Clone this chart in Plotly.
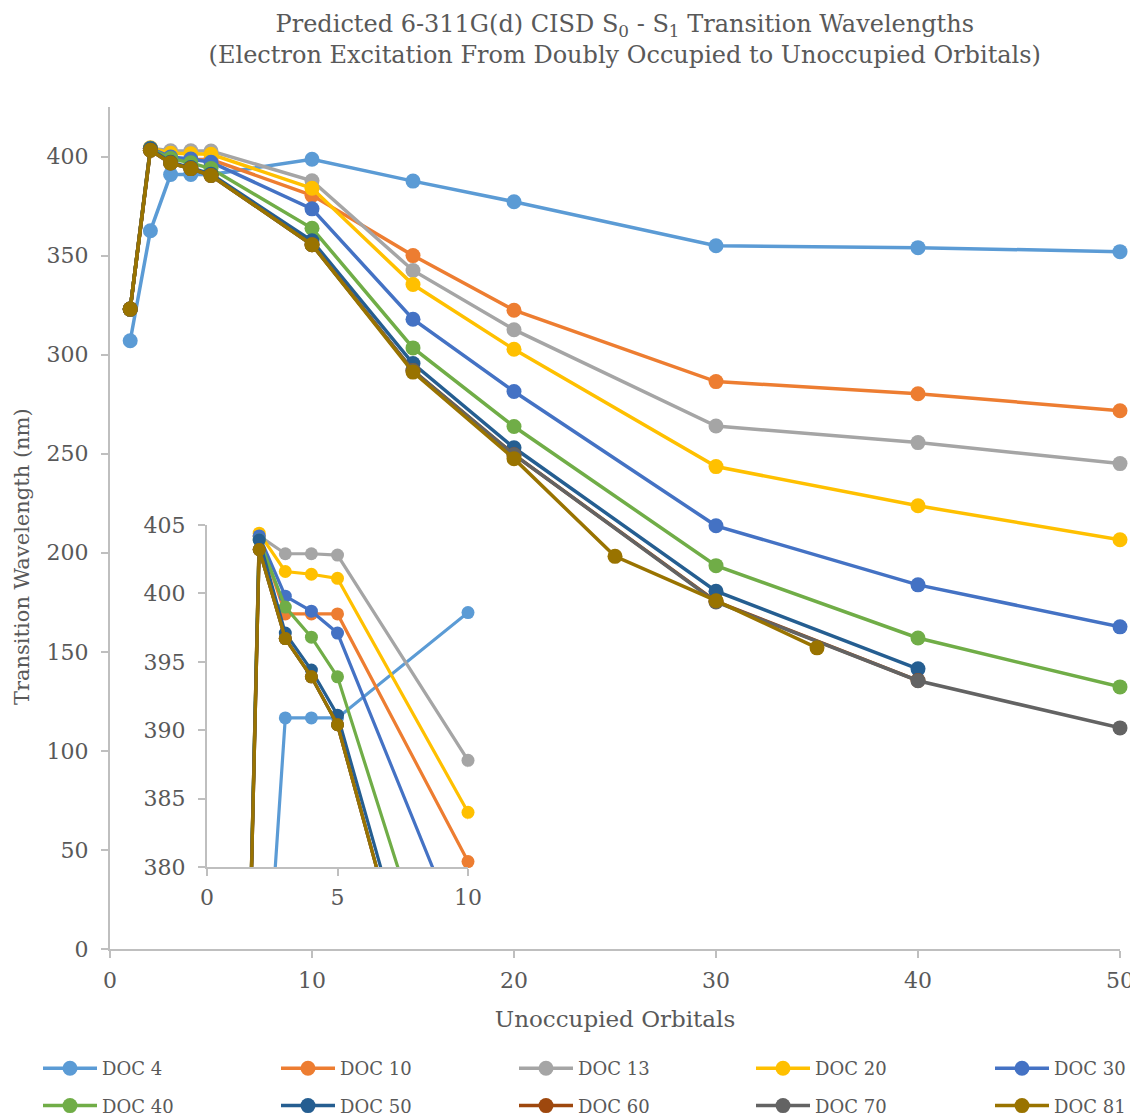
import plotly.graph_objects as go

# ---------------- data ----------------
x_std = [1, 2, 3, 4, 5, 10, 15, 20, 30, 40, 50]
x_doc50 = [1, 2, 3, 4, 5, 10, 15, 20, 30, 40]
x_doc60 = [1, 2, 3, 4, 5, 10, 15, 20, 30, 40]
x_doc81 = [1, 2, 3, 4, 5, 10, 15, 20, 25, 30, 35]

doc4 = [307, 362.5, 390.9, 390.9, 390.9, 398.6, 387.6, 377.2, 355, 354, 352]
doc10 = [323, 404.2, 398.5, 398.5, 398.5, 380.4, 350, 322.4, 286.4, 280.3, 271.7]
doc13 = [323, 404.2, 402.9, 402.9, 402.8, 387.8, 342.5, 312.6, 264, 255.6, 245]
doc20 = [323, 404.4, 401.6, 401.4, 401.1, 384.0, 335.4, 302.7, 243.5, 223.7, 206.6]
doc30 = [323, 404.2, 399.8, 398.7, 397.1, 373.6, 317.9, 281.4, 213.6, 183.8, 162.6]
doc40 = [323, 403.9, 399.0, 396.8, 393.9, 363.8, 303.4, 263.7, 193.5, 157.0, 132.3]
doc50 = [323, 403.9, 397.1, 394.4, 391.1, 357.5, 295.5, 253.0, 180.6, 141.4]
doc60 = [323, 403.2, 396.7, 393.9, 390.4, 355.5, 292.0, 249.5, 175.5, 135.5]
doc70 = [323, 403.2, 396.7, 393.9, 390.4, 355.5, 292.0, 249.5, 175.2, 135.4, 111.6]
doc81 = [323, 403.2, 396.7, 393.9, 390.4, 355.5, 291.2, 247.5, 198.2, 175.8, 152.0]

names = ["DOC 4", "DOC 10", "DOC 13", "DOC 20", "DOC 30",
         "DOC 40", "DOC 50", "DOC 60", "DOC 70", "DOC 81"]
xs = [x_std, x_std, x_std, x_std, x_std, x_std, x_doc50, x_doc60, x_std, x_doc81]
ys = [doc4, doc10, doc13, doc20, doc30, doc40, doc50, doc60, doc70, doc81]
colors = ["#5B9BD5", "#ED7D31", "#A5A5A5", "#FFC000", "#4472C4",
          "#70AD47", "#255E91", "#9E480E", "#636363", "#997300"]

main_ticks = [0, 50, 100, 150, 200, 250, 300, 350, 400]
inset_yticks = [380, 385, 390, 395, 400, 405]
inset_xticks = [0, 5, 10]

FONT = "DejaVu Serif"
TXT = "#595959"
AX = "#BFBFBF"

fig = go.Figure()

legends = ["legend", "legend2", "legend3", "legend4", "legend5"]

for i, (n, x, y, c) in enumerate(zip(names, xs, ys, colors)):
    fig.add_trace(go.Scatter(
        x=x, y=y, name=n, mode="lines+markers",
        line=dict(color=c, width=3.5),
        marker=dict(color=c, size=15),
        cliponaxis=False,
        legend=legends[i % 5], legendgroup=n,
        xaxis="x", yaxis="y"))

for i, (n, x, y, c) in enumerate(zip(names, xs, ys, colors)):
    fig.add_trace(go.Scatter(
        x=x, y=y, name=n, mode="lines+markers",
        line=dict(color=c, width=3.2),
        marker=dict(color=c, size=13),
        cliponaxis=False, showlegend=False,
        xaxis="x2", yaxis="y2"))

# page is drawn with an 8px body offset; positions below are in screenshot px
OFF = 8
W, H = 1138, 1116
L = 110 - OFF
T = 107 - OFF
R = W - (1120 - OFF)
B = H - (949 - OFF)
pw = W - L - R
ph = H - T - B


def px2x(p):
    return (p - OFF - L) / pw


def py2y(p):
    return (H - B - (p - OFF)) / ph


axis_style = dict(showgrid=False, zeroline=False, showline=True,
                  linecolor=AX, linewidth=2, ticks="outside", ticklen=7,
                  tickcolor=AX, tickwidth=2)

fig.update_layout(
    width=W, height=H,
    margin=dict(l=L, r=R, t=T, b=B, autoexpand=False),
    paper_bgcolor="white", plot_bgcolor="rgba(0,0,0,0)",
    font=dict(family=FONT, color=TXT, size=20),
    title=dict(
        text="Predicted 6-311G(d) CISD S<sub>0</sub> - S<sub>1</sub> Transition Wavelengths"
             "<br>(Electron Excitation From Doubly Occupied to Unoccupied Orbitals)",
        x=0.542, xref="container", xanchor="center",
        y=1 - 24 / H, yref="container", yanchor="top",
        font=dict(family=FONT, size=24, color=TXT)),
    xaxis=dict(range=[0, 50], tickvals=[0, 10, 20, 30, 40, 50],
               tickfont=dict(size=22, color=TXT), ticklabelstandoff=4,
               title=dict(text="Unoccupied Orbitals", standoff=18,
                          font=dict(size=23, color=TXT)),
               **axis_style),
    yaxis=dict(range=[0, 425], tickvals=main_ticks,
               tickfont=dict(size=22, color=TXT), ticklabelstandoff=8,
               **axis_style),
    xaxis2=dict(domain=[px2x(207), px2x(468)], anchor="y2",
                range=[0, 10], tickvals=inset_xticks,
                tickfont=dict(size=22, color=TXT), ticklabelstandoff=3,
                **axis_style),
    yaxis2=dict(domain=[py2y(867), py2y(525)], anchor="x2",
                range=[380, 405], tickvals=inset_yticks,
                tickfont=dict(size=22, color=TXT), ticklabelstandoff=8,
                **axis_style),
    annotations=[dict(text="Transition Wavelength (nm)", textangle=-90,
                      xref="paper", yref="paper",
                      x=px2x(22), y=py2y(557), showarrow=False,
                      xanchor="center", yanchor="middle",
                      font=dict(size=21, color=TXT))],
)

col_px = [44, 282, 520, 757, 996]
for lg, cx in zip(legends, col_px):
    fig.update_layout({lg: dict(
        orientation="v", x=px2x(cx - 6), xanchor="left",
        y=py2y(1050), yanchor="top",
        bgcolor="rgba(0,0,0,0)", tracegroupgap=11,
        itemwidth=54,
        font=dict(family=FONT, size=18, color=TXT))})

fig.write_html("out.html")
